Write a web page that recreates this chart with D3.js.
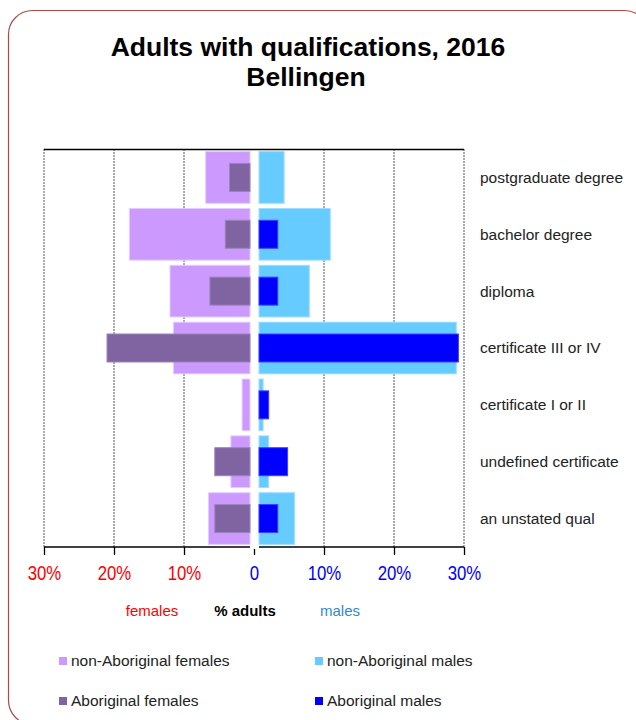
<!DOCTYPE html>
<html>
<head>
<meta charset="utf-8">
<script src="https://cdn.jsdelivr.net/npm/d3@7/dist/d3.min.js"></script>
<style>
  html, body { margin: 0; padding: 0; background: #fff; }
  svg { display: block; font-family: "Liberation Sans", Arial, sans-serif; }
</style>
</head>
<body>
<svg id="chart" width="636" height="720"></svg>
<script>
// Qualification categories, top to bottom
const categories = [
  "postgraduate degree",
  "bachelor degree",
  "diploma",
  "certificate III or IV",
  "certificate I or II",
  "undefined certificate",
  "an unstated qual"
];

// Percent of adults in each group
const nonAboriginalFemales = [6.9, 17.8, 12.0, 11.5, 1.7, 3.3, 6.5];
const aboriginalFemales    = [3.5, 4.1, 6.3, 21.0, 0, 5.6, 5.6];
const nonAboriginalMales   = [4.3, 10.9, 7.9, 28.9, 1.3, 2.1, 5.8];
const aboriginalMales      = [0, 3.4, 3.4, 29.2, 2.1, 4.8, 3.4];

const femaleTicks = [30, 20, 10];
const maleTicks = [0, 10, 20, 30];

const legendItems = [
  { label: "non-Aboriginal females", color: "#CC99FF" },
  { label: "non-Aboriginal males", color: "#66CCFF" },
  { label: "Aboriginal females", color: "#8064A2" },
  { label: "Aboriginal males", color: "#0000FF" }
];

const svg = d3.select("#chart");

// outer frame
svg.append("rect")
  .attr("x", 8.5).attr("y", 10.5)
  .attr("width", 640).attr("height", 714)
  .attr("rx", 24).attr("ry", 24)
  .attr("fill", "none")
  .attr("stroke", "#B04848")
  .attr("stroke-width", 1.2);

// title
const title = svg.append("text")
  .attr("text-anchor", "middle")
  .attr("font-weight", "bold")
  .attr("font-size", 26.5)
  .attr("fill", "#000");
title.append("tspan").attr("x", 308).attr("y", 56).text("Adults with qualifications, 2016");
title.append("tspan").attr("x", 306).attr("y", 86).text("Bellingen");

// scales
const plotTop = 149, plotBottom = 547;
const xF = d3.scaleLinear().domain([0, 30]).range([254, 44]);
const xM = d3.scaleLinear().domain([0, 30]).range([254, 464]);
const y = d3.scaleBand().domain(categories).range([plotTop, plotBottom])
  .paddingInner(0.091).paddingOuter(0.0455);
const innerH = 28;
const fEdge = 250, mEdge = 259;

// gridlines
const grid = svg.append("g");
femaleTicks.forEach(t => grid.append("line")
  .attr("x1", xF(t)).attr("x2", xF(t)).attr("y1", plotTop).attr("y2", plotBottom)
  .attr("stroke", "#555").attr("stroke-dasharray", "2,1"));
maleTicks.filter(t => t > 0).forEach(t => grid.append("line")
  .attr("x1", xM(t)).attr("x2", xM(t)).attr("y1", plotTop).attr("y2", plotBottom)
  .attr("stroke", "#555").attr("stroke-dasharray", "2,1"));

// top border
svg.append("line").attr("x1", xF(30)).attr("x2", xM(30))
  .attr("y1", plotTop + 0.5).attr("y2", plotTop + 0.5)
  .attr("stroke", "#000").attr("stroke-width", 1.3);

const rows = categories.map((c, i) => ({
  c,
  nf: nonAboriginalFemales[i], af: aboriginalFemales[i],
  nm: nonAboriginalMales[i], am: aboriginalMales[i]
}));

const bars = svg.append("g");
// females (left)
bars.selectAll(".nf").data(rows).join("rect")
  .attr("x", d => xF(d.nf)).attr("width", d => Math.max(0, fEdge - xF(d.nf)))
  .attr("y", d => y(d.c)).attr("height", y.bandwidth())
  .attr("fill", "#CC99FF").attr("stroke", "#E2CCFF").attr("stroke-width", 1);
bars.selectAll(".af").data(rows.filter(d => d.af > 0)).join("rect")
  .attr("x", d => xF(d.af)).attr("width", d => Math.max(0, fEdge - xF(d.af)))
  .attr("y", d => y(d.c) + (y.bandwidth() - innerH) / 2).attr("height", innerH)
  .attr("fill", "#8064A2").attr("stroke", "#9A84B8").attr("stroke-width", 1);
// males (right)
bars.selectAll(".nm").data(rows).join("rect")
  .attr("x", mEdge).attr("width", d => Math.max(0, xM(d.nm) - mEdge))
  .attr("y", d => y(d.c)).attr("height", y.bandwidth())
  .attr("fill", "#66CCFF").attr("stroke", "#A0DEFF").attr("stroke-width", 1);
bars.selectAll(".am").data(rows.filter(d => d.am > 0)).join("rect")
  .attr("x", mEdge).attr("width", d => Math.max(0, xM(d.am) - mEdge))
  .attr("y", d => y(d.c) + (y.bandwidth() - innerH) / 2).attr("height", innerH)
  .attr("fill", "#0000FF").attr("stroke", "#4040FF").attr("stroke-width", 1);

// bottom axes
const fAxis = svg.append("g").attr("transform", `translate(0,${plotBottom})`)
  .call(d3.axisBottom(xF).tickValues(femaleTicks).tickSize(8).tickPadding(10)
    .tickFormat(d => d + "%"));
const mAxis = svg.append("g").attr("transform", `translate(0,${plotBottom})`)
  .call(d3.axisBottom(xM).tickValues(maleTicks).tickSize(8).tickPadding(10)
    .tickFormat(d => d === 0 ? "0" : d + "%"));
[fAxis, mAxis].forEach(a => {
  a.select(".domain").remove();
  a.selectAll(".tick line").attr("stroke", "#000").attr("stroke-width", 1.3);
  // condensed tick labels
  a.selectAll(".tick text")
    .attr("font-family", '"Liberation Sans", Arial, sans-serif')
    .attr("font-size", 21)
    .attr("transform", "scale(0.8,1)");
});
fAxis.selectAll(".tick text").attr("fill", "#FF0000");
mAxis.selectAll(".tick text").attr("fill", "#0000FF");
mAxis.selectAll(".tick").filter(d => d === 0).select("line").attr("y1", 2);
svg.append("line").attr("x1", xF(30)).attr("x2", fEdge)
  .attr("y1", plotBottom).attr("y2", plotBottom).attr("stroke", "#000").attr("stroke-width", 1.3);
svg.append("line").attr("x1", mEdge).attr("x2", xM(30))
  .attr("y1", plotBottom).attr("y2", plotBottom).attr("stroke", "#000").attr("stroke-width", 1.3);

// category labels
svg.append("g").selectAll("text").data(categories).join("text")
  .attr("x", 480).attr("y", d => y(d) + y.bandwidth() / 2).attr("dy", "0.35em")
  .attr("font-size", 15.5).attr("fill", "#222").text(d => d);

// axis caption
svg.append("text").attr("x", 152).attr("y", 616).attr("text-anchor", "middle")
  .attr("font-size", 15).attr("fill", "#FF0000").text("females");
svg.append("text").attr("x", 245).attr("y", 616).attr("text-anchor", "middle")
  .attr("font-size", 15).attr("font-weight", "bold").attr("fill", "#000").text("% adults");
svg.append("text").attr("x", 340).attr("y", 616).attr("text-anchor", "middle")
  .attr("font-size", 15).attr("fill", "#2E8AD8").text("males");

// legend
const lg = svg.append("g").selectAll("g").data(legendItems).join("g")
  .attr("transform", (d, i) => `translate(${i % 2 === 0 ? 59 : 315},${i < 2 ? 661 : 701})`);
lg.append("rect").attr("x", 0).attr("y", -4).attr("width", 8).attr("height", 8)
  .attr("fill", d => d.color);
lg.append("text").attr("x", 12).attr("y", 0).attr("dy", "0.35em")
  .attr("font-size", 15.5).attr("fill", "#222").text(d => d.label);
</script>
</body>
</html>
